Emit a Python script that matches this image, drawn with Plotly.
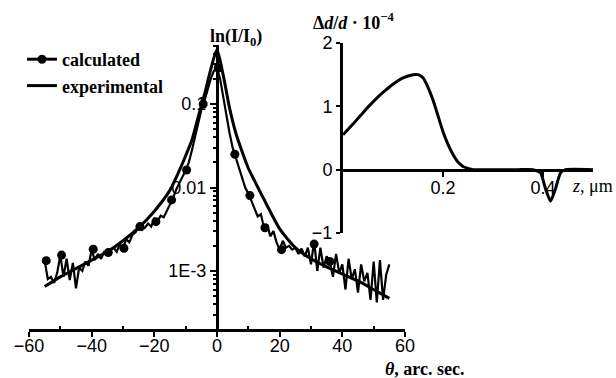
import plotly.graph_objects as go

# ---------------- main plot data ----------------
theta_noisy = list(range(-55, 56))
i_noisy_e3 = [
    1.33, 0.8, 0.85, 0.72, 0.95, 1.55, 0.85, 1.4, 0.78, 1.25,
    0.62, 1.1, 1.0, 1.3, 1.15, 1.8, 1.35, 1.6, 1.4, 1.7,
    1.66, 1.75, 1.9, 1.7, 2.1, 1.87, 2.4, 2.2, 2.7, 2.9,
    3.4, 3.1, 3.3, 3.7, 3.4, 4.2, 3.9, 4.6, 4.4, 5.2,
    6.2, 7.5, 9.5, 11.5, 13.5, 16, 20, 28, 40, 60,
    85, 110, 150, 200, 250, 270, 200, 120, 70, 45,
    30, 23, 18, 13, 10, 8.5, 6.8, 5.5, 4.5, 4.8,
    3.3, 3.6, 2.6, 3.0, 2.2, 1.8, 2.3, 1.9, 2.0, 1.8,
    1.9, 1.6, 1.85, 1.5, 1.9, 1.2, 2.3, 1.0, 1.9, 1.1,
    1.5, 1.3, 0.85, 1.6, 0.95, 1.2, 0.6, 1.4, 0.8, 1.05,
    0.55, 1.2, 0.75, 0.95, 0.45, 1.3, 0.42, 1.35, 0.45, 0.9,
    1.2,
]
i_noisy = [v * 1e-3 for v in i_noisy_e3]

theta_marks = [-54.5, -49.6, -39.5, -34.7, -29.7, -24.6, -19.5, -14.5, -9.7,
               -4.4, 0.4, 5.7, 10.5, 15.3, 20.6, 31, 36]
i_marks = [1.33e-3, 1.55e-3, 1.82e-3, 1.66e-3, 1.87e-3, 3.4e-3, 3.9e-3, 7.1e-3,
           0.0162, 0.1, 0.27, 0.025, 0.008, 0.0033, 0.0018, 0.0021, 0.0013]

theta_smooth = [-55, -50, -45, -40, -35, -30, -25, -20, -15, -12, -10, -8, -6,
                -4, -2, 0, 2, 4, 6, 8, 10, 12, 15, 20, 25, 30, 35, 40, 45, 50, 55]
i_smooth = [6.5e-4, 8.5e-4, 1.07e-3, 1.35e-3, 1.7e-3, 2.3e-3, 3.3e-3, 5.2e-3,
            9.3e-3, 0.016, 0.024, 0.037, 0.07, 0.13, 0.26, 0.45, 0.22, 0.09,
            0.045, 0.027, 0.017, 0.012, 0.0072, 0.0032, 0.0019, 0.0014,
            0.00112, 9.2e-4, 7.6e-4, 6.0e-4, 4.7e-4]

x_tickvals = [-60, -40, -20, 0, 20, 40, 60]
y_tickvals = [0.1, 0.01, 0.001]
y_ticktext = ["0.1", "0.01", "1E-3"]

# ---------------- inset data ----------------
z = [0, 0.02, 0.04, 0.06, 0.08, 0.10, 0.12, 0.14, 0.15, 0.16, 0.17, 0.18,
     0.19, 0.20, 0.21, 0.22, 0.23, 0.24, 0.25, 0.26, 0.28, 0.30, 0.35, 0.38,
     0.395, 0.405, 0.415, 0.425, 0.435, 0.445, 0.5]
dd = [0.55, 0.72, 0.9, 1.07, 1.22, 1.35, 1.45, 1.5, 1.5, 1.45, 1.3, 1.1,
      0.85, 0.6, 0.4, 0.24, 0.12, 0.05, 0.02, 0.0, 0, 0, 0, 0,
      -0.05, -0.3, -0.5, -0.3, -0.05, 0, 0]
inset_xticks = [0.2, 0.4]
inset_yticks = [-1, 0, 1, 2]

W, H = 616, 378
tickfont = dict(family="Liberation Sans, Arial", size=18, color="black")
serif = "Liberation Serif, Times New Roman"

fig = go.Figure()

fig.add_trace(go.Scatter(x=theta_noisy, y=i_noisy, mode="lines",
                         line=dict(color="black", width=2.2),
                         showlegend=False, xaxis="x", yaxis="y"))
fig.add_trace(go.Scatter(x=theta_marks, y=i_marks, mode="markers",
                         marker=dict(color="black", size=9),
                         showlegend=False, xaxis="x", yaxis="y"))
fig.add_trace(go.Scatter(x=theta_smooth, y=i_smooth, mode="lines",
                         line=dict(color="black", width=3, shape="spline", smoothing=0.6),
                         showlegend=False, xaxis="x", yaxis="y"))
fig.add_trace(go.Scatter(x=[None], y=[None], mode="lines+markers", name="calculated",
                         line=dict(color="black", width=3),
                         marker=dict(color="black", size=9), xaxis="x", yaxis="y"))
fig.add_trace(go.Scatter(x=[None], y=[None], mode="lines", name="experimental",
                         line=dict(color="black", width=3), xaxis="x", yaxis="y"))

fig.add_trace(go.Scatter(x=z, y=dd, mode="lines", showlegend=False,
                         line=dict(color="black", width=3, shape="spline", smoothing=0.5),
                         xaxis="x2", yaxis="y2"))

xd = [29 / W, 405 / W]
yd = [1 - 329 / H, 1 - 45 / H]
x2d = [343 / W, 593 / W]
y2d = [1 - 233 / H, 1 - 43 / H]
x0_paper = xd[0] + (xd[1] - xd[0]) * 0.5
z0_paper = y2d[0] + (y2d[1] - y2d[0]) / 3

minor_y = [m * 10 ** e for e in (-4, -3, -2, -1) for m in range(2, 10)]
minor_y = [v for v in minor_y if 2.0e-4 <= v <= 0.5]


def label(text, px, py, **font):
    f = dict(family=serif, size=18, color="black")
    f.update(font)
    return dict(text=text, x=px / W, y=1 - py / H, xref="paper", yref="paper",
                xanchor="center", yanchor="middle", showarrow=False, font=f)


fig.update_layout(
    template="none",
    width=W, height=H, autosize=False,
    margin=dict(l=0, r=0, t=0, b=0, pad=0),
    paper_bgcolor="white", plot_bgcolor="white",
    showlegend=True,
    legend=dict(x=22 / W, y=1 - 41 / H, xanchor="left", yanchor="top",
                bgcolor="rgba(0,0,0,0)", borderwidth=0,
                font=dict(family=serif, size=18, color="black", weight="bold"),
                tracegroupgap=0),
    xaxis=dict(domain=xd, range=[-60, 60], tickvals=x_tickvals, automargin=False,
               showgrid=False, zeroline=False, showline=True,
               linecolor="black", linewidth=3, ticks="outside", ticklen=5,
               tickwidth=2, tickcolor="black", tickfont=tickfont,
               ticklabelstandoff=-7,
               anchor="y",
               minor=dict(tickvals=[-50, -30, -10, 10, 30, 50], ticks="inside",
                          ticklen=3, tickwidth=2, tickcolor="black")),
    yaxis=dict(domain=yd, type="log", range=[-3.695, -0.293], automargin=False,
               tickvals=y_tickvals, ticktext=y_ticktext,
               showgrid=False, zeroline=False, showline=True,
               linecolor="black", linewidth=3, ticks="outside", ticklen=6,
               tickwidth=2, tickcolor="black", tickfont=tickfont,
               anchor="free", position=x0_paper,
               minor=dict(tickvals=minor_y, ticks="outside", ticklen=3,
                          tickwidth=1.5, tickcolor="black")),
    xaxis2=dict(domain=x2d, range=[0, 0.5], tickvals=inset_xticks, automargin=False,
                ticktext=["0.2", "0.4"],
                showgrid=False, zeroline=False, showline=True,
                linecolor="black", linewidth=3, ticks="outside", ticklen=5,
                tickwidth=2, tickcolor="black", tickfont=tickfont,
                ticklabelstandoff=-4,
                anchor="free", position=z0_paper),
    yaxis2=dict(domain=y2d, range=[-1, 2], tickvals=inset_yticks, automargin=False,
                showgrid=False, zeroline=False, showline=True,
                linecolor="black", linewidth=3, ticks="outside", ticklen=4,
                tickwidth=2, tickcolor="black", tickfont=tickfont,
                anchor="x2"),
    annotations=[
        label("ln(I/I<sub>0</sub>)", 236, 37, weight="bold"),
        label("<i>θ</i>, arc. sec.", 424, 369, weight="bold"),
        label("Δ<i>d</i>/<i>d</i> · 10<sup>−4</sup>", 354, 22, weight="bold"),
        label("<i>z</i>, μm", 592, 186),
    ],
)

fig.write_html("out.html")
